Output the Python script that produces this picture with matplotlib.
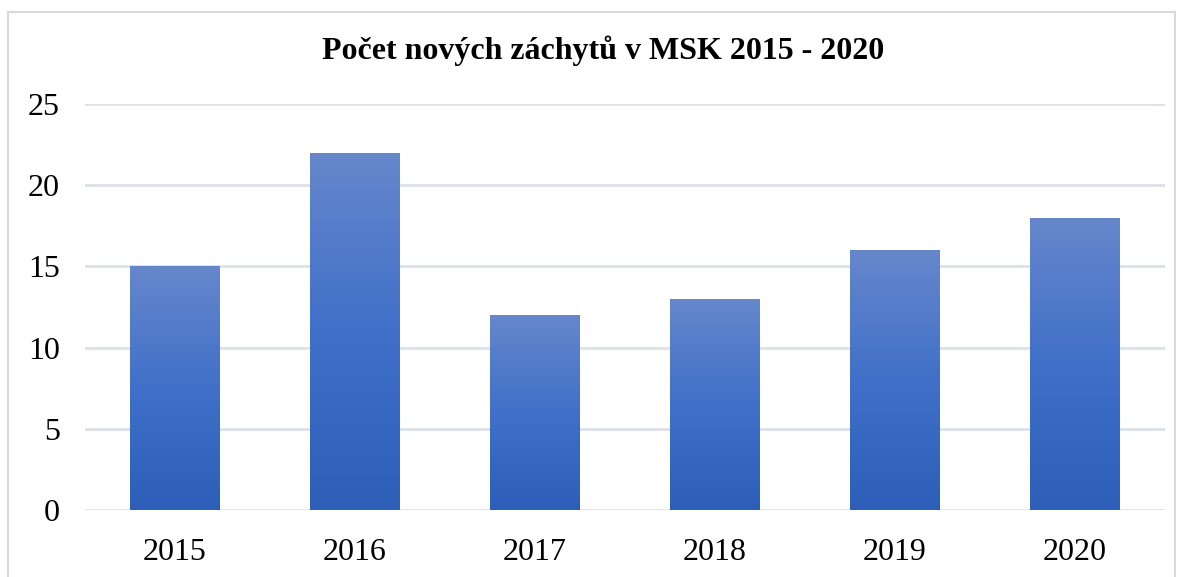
import numpy as np
import matplotlib.pyplot as plt
from matplotlib.colors import LinearSegmentedColormap
from matplotlib.patches import Rectangle

years = ['2015', '2016', '2017', '2018', '2019', '2020']
values = [15, 22, 12, 13, 16, 18]
title = 'Počet nových záchytů v MSK 2015 - 2020'

plt.rcParams['font.family'] = ['Liberation Serif', 'DejaVu Serif']

W, H = 1183, 577
fig = plt.figure(figsize=(W / 100, H / 100), dpi=100)
ax = fig.add_axes([85 / W, 1 - 510 / H, (1165 - 85) / W, (510 - 104) / H])

# outer chart border
fig.patches.append(Rectangle((8 / W, -0.05), (1175 - 8) / W, 1 - 12 / H + 0.05,
                             transform=fig.transFigure, fill=False,
                             edgecolor='#d9d9d9', linewidth=1.5))

grad = LinearSegmentedColormap.from_list('g', ['#2d5fb8', '#4070c8', '#6687cc'])
bar_w = 0.5
x = np.arange(len(years))
bars = ax.bar(x, values, width=bar_w, color='none', zorder=3)
img = np.linspace(0, 1, 256).reshape(-1, 1)
for b in bars:
    x0, y0 = b.get_x(), b.get_y()
    im = ax.imshow(img, cmap=grad, aspect='auto', origin='lower',
                   extent=[x0, x0 + b.get_width(), y0, y0 + b.get_height()], zorder=3)
    im.set_clip_path(b)

ax.set_xlim(-0.5, len(years) - 0.5)
ax.set_ylim(0, 25)
ax.set_yticks(np.arange(0, 26, 5))
ax.set_xticks(x)
ax.set_xticklabels(years)
ax.yaxis.grid(True, color='#dde1e8', linewidth=2, zorder=0)
ax.set_axisbelow(True)
for s in ax.spines.values():
    s.set_visible(False)
ax.tick_params(length=0, labelsize=23, colors='black')
ax.tick_params(axis='y', pad=18)
ax.tick_params(axis='x', pad=20)

fig.text(603 / W, 1 - 51 / H, title, ha='center', va='center',
         fontsize=23, fontweight='bold')

fig.savefig('out.png', dpi=100)
